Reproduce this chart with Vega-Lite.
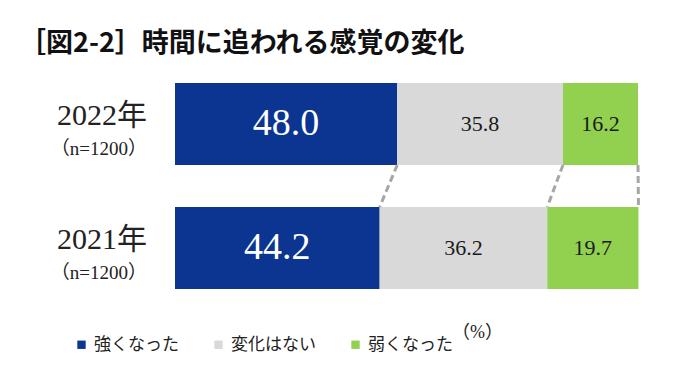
{
  "$schema": "https://vega.github.io/schema/vega-lite/v6.json",
  "width": 463,
  "height": 248,
  "autosize": {"type": "none"},
  "padding": {"left": 175, "top": 62, "right": 42, "bottom": 70},
  "background": "white",
  "title": {
    "text": "［図2-2］時間に追われる感覚の変化",
    "anchor": "start",
    "frame": "group",
    "dx": -156,
    "offset": 4,
    "font": "Noto Sans CJK JP",
    "fontSize": 27,
    "fontWeight": "bold",
    "color": "#111111"
  },
  "datasets": {
    "bars": [
      {"year": "2022年", "cat": "強くなった", "k": 1, "v": 48.0},
      {"year": "2022年", "cat": "変化はない", "k": 2, "v": 35.8},
      {"year": "2022年", "cat": "弱くなった", "k": 3, "v": 16.2},
      {"year": "2021年", "cat": "強くなった", "k": 1, "v": 44.2},
      {"year": "2021年", "cat": "変化はない", "k": 2, "v": 36.2},
      {"year": "2021年", "cat": "弱くなった", "k": 3, "v": 19.7}
    ],
    "years": [
      {"year": "2022年", "n": "（n=1200）"},
      {"year": "2021年", "n": "（n=1200）"}
    ]
  },
  "config": {"view": {"stroke": null}},
  "resolve": {"scale": {"color": "independent"}},
  "layer": [
    {
      "data": {"name": "bars"},
      "transform": [
        {"stack": "v", "groupby": ["year"], "sort": [{"field": "k"}], "as": ["x0", "x1"]}
      ],
      "mark": {"type": "bar", "strokeWidth": 0},
      "encoding": {
        "y": {
          "field": "year", "type": "nominal",
          "scale": {"domain": ["2022年", "2021年"], "paddingInner": 0.339, "paddingOuter": 0.1695},
          "axis": null
        },
        "x": {
          "field": "x0", "type": "quantitative",
          "scale": {"domain": [0, 100], "nice": false, "zero": true},
          "title": "（%）",
          "axis": {
            "domain": false, "ticks": false, "labels": false, "grid": false,
            "title": "（%）",
            "titleFont": "Liberation Serif, Noto Sans CJK JP",
            "titleFontSize": 18,
            "titleFontWeight": "normal",
            "titleColor": "#222222",
            "titleX": 302,
            "titleY": 22,
            "titleAlign": "center",
            "titleBaseline": "middle"
          }
        },
        "x2": {"field": "x1"},
        "color": {
          "field": "cat", "type": "nominal",
          "scale": {
            "domain": ["強くなった", "変化はない", "弱くなった"],
            "range": ["#0b3590", "#d9d9d9", "#92d050"]
          },
          "legend": {
            "orient": "none",
            "legendX": -102,
            "legendY": 274,
            "direction": "horizontal",
            "columns": 3,
            "title": null,
            "symbolType": "square",
            "symbolSize": 70,
            "symbolStrokeWidth": 0,
            "labelFont": "Noto Sans CJK JP",
            "labelFontSize": 17,
            "labelColor": "#222222",
            "labelOffset": 4,
            "columnPadding": 31
          }
        }
      }
    },
    {
      "data": {"name": "bars"},
      "transform": [
        {"stack": "v", "groupby": ["year"], "sort": [{"field": "k"}], "as": ["x0", "x1"]},
        {"pivot": "year", "value": "x1", "groupby": ["cat"]}
      ],
      "mark": {"type": "rule", "stroke": "#a6a6a6", "strokeWidth": 3, "strokeDash": [7, 4]},
      "encoding": {
        "x": {"field": "2022年", "type": "quantitative"},
        "x2": {"field": "2021年"},
        "y": {"datum": "2022年", "type": "nominal", "bandPosition": 1},
        "y2": {"datum": "2021年", "bandPosition": 0}
      }
    },
    {
      "data": {"name": "bars"},
      "transform": [
        {"stack": "v", "groupby": ["year"], "sort": [{"field": "k"}], "as": ["x0", "x1"]},
        {"calculate": "(datum.x0 + datum.x1) / 2", "as": "mid"}
      ],
      "mark": {"type": "text", "font": "Liberation Serif", "baseline": "middle", "align": "center"},
      "encoding": {
        "y": {"field": "year", "type": "nominal"},
        "x": {"field": "mid", "type": "quantitative"},
        "text": {"field": "v", "type": "quantitative", "format": ".1f"},
        "size": {"condition": {"test": "datum.k === 1", "value": 38}, "value": 22},
        "color": {"condition": {"test": "datum.k === 1", "value": "#ffffff"}, "value": "#1a1a1a"}
      }
    },
    {
      "data": {"name": "years"},
      "mark": {"type": "text", "font": "Liberation Serif, Noto Sans CJK JP", "fontSize": 30, "align": "right", "baseline": "middle", "dx": -28, "dy": -8, "color": "#222222"},
      "encoding": {
        "y": {"field": "year", "type": "nominal"},
        "x": {"datum": 0, "type": "quantitative"},
        "text": {"field": "year"}
      }
    },
    {
      "data": {"name": "years"},
      "mark": {"type": "text", "font": "Liberation Serif, Noto Sans CJK JP", "fontSize": 19, "align": "right", "baseline": "middle", "dx": -28, "dy": 25, "color": "#222222"},
      "encoding": {
        "y": {"field": "year", "type": "nominal"},
        "x": {"datum": 0, "type": "quantitative"},
        "text": {"field": "n"}
      }
    }
  ]
}
